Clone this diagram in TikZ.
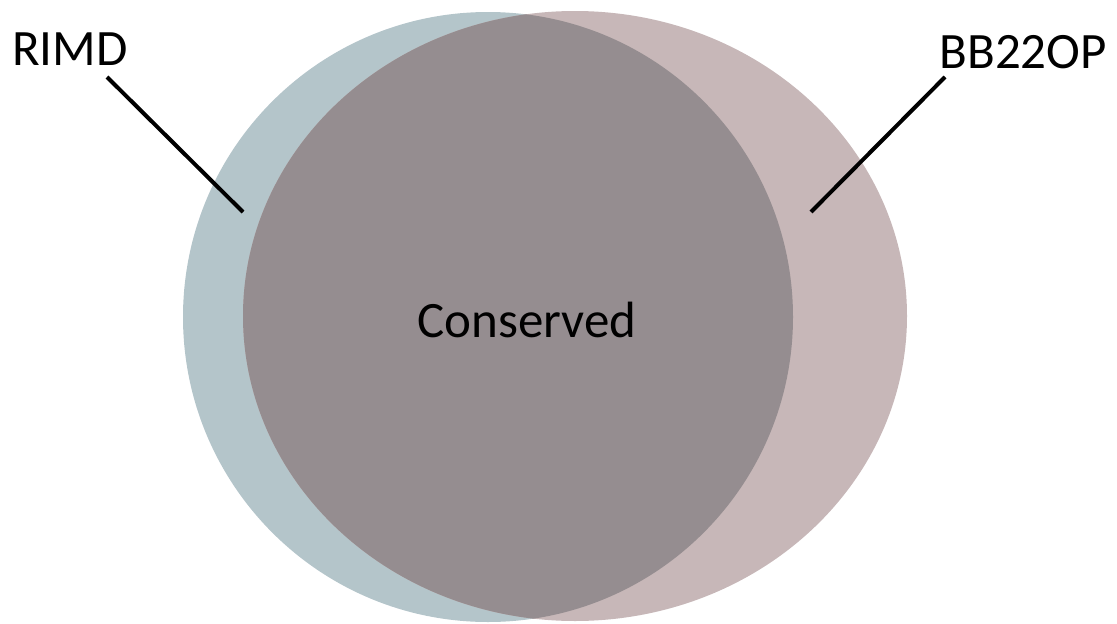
\documentclass[tikz,border=0pt]{standalone}
\usepackage{fontspec}
\setmainfont{Carlito}
\definecolor{rimdblue}{HTML}{B4C5CA}
\definecolor{bbrose}{HTML}{C7B7B8}
\definecolor{overlapgray}{HTML}{958D90}
\tikzset{
	setlabel/.style={inner sep=0pt, font=\fontsize{51}{51}\selectfont},
	leader/.style={line width=4pt, black}
}
\begin{document}
\begin{tikzpicture}[x=1pt, y=-1pt]
		\useasboundingbox (0,0) rectangle (1117,624);

		\fill[rimdblue] (488,317) ellipse (305 and 305);
		\fill[bbrose] (575,316) ellipse (332 and 305);
		\begin{scope}
			\clip (488,317) ellipse (305 and 305);
			\fill[overlapgray] (575,316) ellipse (332 and 305);
		\end{scope}

		\node[setlabel, anchor=base west] (rimd) at (12,65) {RIMD};
		\node[setlabel, anchor=base east] (bb) at (1107,68) {BB22OP};
		\node[setlabel, anchor=base] (cons) at (527,337) {Conserved};

		\coordinate (rimdfoot) at (107,77);
		\coordinate (rimdtip) at (243,212);
		\coordinate (bbfoot) at (945,77);
		\coordinate (bbtip) at (811,212);
		\draw[leader] (rimdfoot) -- (rimdtip);
		\draw[leader] (bbfoot) -- (bbtip);

	\end{tikzpicture}
\end{document}
